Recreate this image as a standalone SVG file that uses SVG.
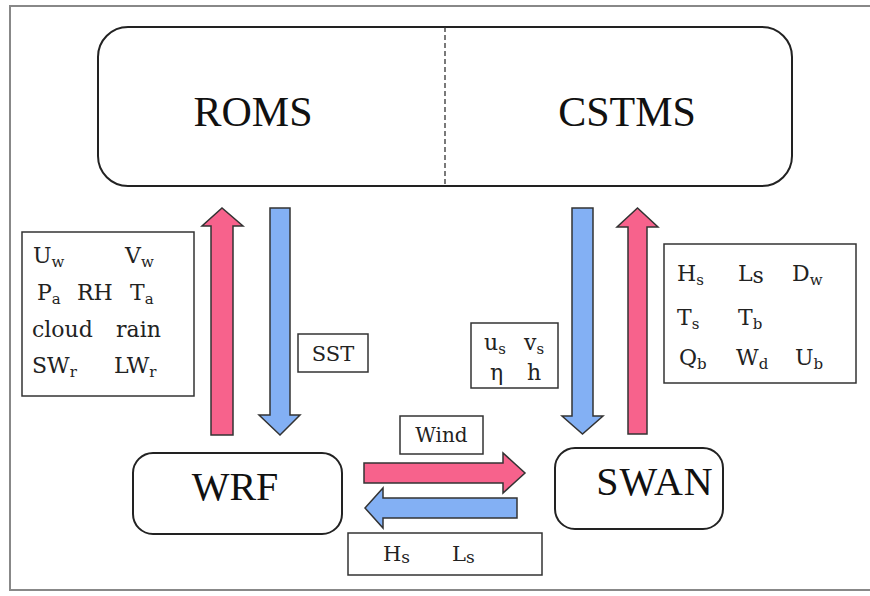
<svg xmlns="http://www.w3.org/2000/svg" width="870" height="596" viewBox="0 0 870 596">
<style>
.box{fill:#fff;stroke:#333;stroke-width:1.5}
.node{fill:#fff;stroke:#222;stroke-width:2}
.big{font-family:"Liberation Serif",serif;font-size:42px;fill:#111;text-anchor:middle}
.t{font-family:"DejaVu Serif","Liberation Serif",serif;font-size:22px;fill:#222}
.s{font-size:15px}
.lbl{font-family:"DejaVu Serif","Liberation Serif",serif;font-size:20px;fill:#222}
.red{fill:#F7628C;stroke:#333;stroke-width:1.5}
.blue{fill:#83B0F4;stroke:#333;stroke-width:1.5}
</style>
<rect x="0" y="0" width="870" height="596" fill="#fff"/>
<path d="M872,6 H10 V590 H872" fill="none" stroke="#888" stroke-width="2"/>

<g id="roms-cstms">
<rect class="node" x="98" y="27" width="694" height="159" rx="30"/>
<line x1="445" y1="27" x2="445" y2="186" stroke="#333" stroke-width="1.3" stroke-dasharray="5,3"/>
<text class="big" x="253" y="126">ROMS</text>
<text class="big" x="627" y="126">CSTMS</text>
</g>

<g id="wrf">
<rect class="node" x="133" y="453" width="209" height="81" rx="20"/>
<text class="big" x="235" y="500" style="font-size:40px">WRF</text>
</g>

<g id="swan">
<rect class="node" x="555" y="448" width="168" height="81" rx="20"/>
<text class="big" x="655" y="495" style="font-size:40px;letter-spacing:1px">SWAN</text>
</g>

<g id="connectors">
<polygon class="red" points="211,435 211,226 202,226 222,208 243,226 233,226 233,435"/>
<polygon class="blue" points="270,208 290,208 290,415 300,415 280,435 259,415 270,415"/>
<polygon class="blue" points="572,208 593,208 593,416 603,416 582.5,434 562,416 572,416"/>
<polygon class="red" points="628,434 628,227 617,227 637.5,208 658,227 647,227 647,434"/>
<polygon class="red" points="364,463 503,463 503,453 525,473 503,493 503,483 364,483"/>
<polygon class="blue" points="517,498 383,498 383,488 365,508 383,528 383,518 517,518"/>
</g>

<g id="atm-vars">
<rect class="box" x="22" y="232" width="172" height="164"/>
<text class="t" x="33" y="263">U<tspan class="s" dy="4">w</tspan></text>
<text class="t" x="125" y="263">V<tspan class="s" dy="4">w</tspan></text>
<text class="t" x="37" y="300">P<tspan class="s" dy="4">a</tspan></text>
<text class="t" x="77" y="300">RH</text>
<text class="t" x="130" y="300">T<tspan class="s" dy="4">a</tspan></text>
<text class="t" x="32" y="337">cloud</text>
<text class="t" x="116" y="337">rain</text>
<text class="t" x="32" y="373">SW<tspan class="s" dy="4">r</tspan></text>
<text class="t" x="114" y="373">LW<tspan class="s" dy="4">r</tspan></text>
</g>

<g id="sst">
<rect class="box" x="298" y="334" width="70" height="38"/>
<text class="lbl" x="333" y="361" text-anchor="middle" style="font-size:21px">SST</text>
</g>

<g id="ocean-vars">
<rect class="box" x="471" y="323" width="87" height="65"/>
<text class="t" x="484" y="350">u<tspan class="s" dy="4">s</tspan></text>
<text class="t" x="524" y="350">v<tspan class="s" dy="4">s</tspan></text>
<text class="t" x="490" y="380">η</text>
<text class="t" x="527" y="380">h</text>
</g>

<g id="wave-vars">
<rect class="box" x="664" y="244" width="192" height="139"/>
<text class="t" x="677" y="281">H<tspan class="s" dy="4">s</tspan></text>
<text class="t" x="738" y="281">L<tspan dy="2">s</tspan></text>
<text class="t" x="792" y="281">D<tspan class="s" dy="4">w</tspan></text>
<text class="t" x="677" y="325">T<tspan class="s" dy="4">s</tspan></text>
<text class="t" x="738" y="325">T<tspan class="s" dy="4">b</tspan></text>
<text class="t" x="679" y="365">Q<tspan class="s" dy="4">b</tspan></text>
<text class="t" x="736" y="365">W<tspan class="s" dy="4">d</tspan></text>
<text class="t" x="795" y="365">U<tspan class="s" dy="4">b</tspan></text>
</g>

<g id="wind">
<rect class="box" x="400" y="416" width="83" height="38"/>
<text class="lbl" x="441.5" y="442" text-anchor="middle">Wind</text>
</g>

<g id="hsls">
<rect class="box" x="348" y="533" width="194" height="42"/>
<text class="t" x="383" y="561" style="font-size:21px">H<tspan style="font-size:17px" dy="2">s</tspan></text>
<text class="t" x="452" y="561" style="font-size:21px">L<tspan style="font-size:17px" dy="2">s</tspan></text>
</g>
</svg>
